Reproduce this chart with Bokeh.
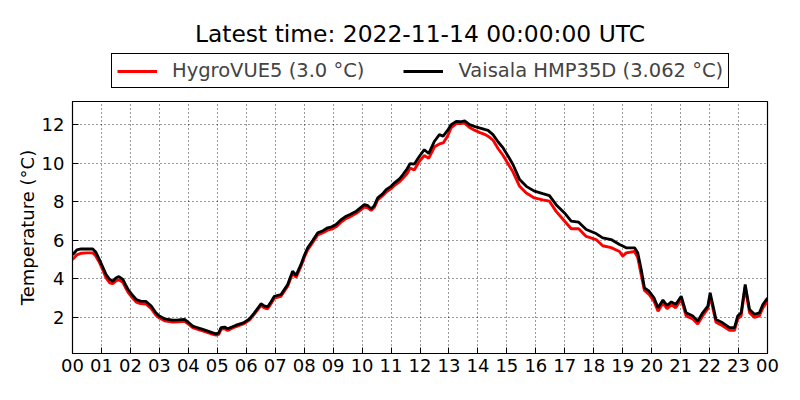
from bokeh.plotting import figure
from bokeh.layouts import column
from bokeh.models import Range1d, FixedTicker, Legend, LegendItem, ColumnDataSource, Label
from bokeh.embed import file_html
from bokeh.resources import INLINE

title_text = "Latest time: 2022-11-14 00:00:00 UTC"
y_label = "Temperature (°C)"
tick_hours = list(range(25))
tick_labels = ["00", "01", "02", "03", "04", "05", "06", "07", "08", "09", "10", "11",
               "12", "13", "14", "15", "16", "17", "18", "19", "20", "21", "22", "23", "00"]
y_ticks = [2, 4, 6, 8, 10, 12]

label_hygro = "HygroVUE5 (3.0 °C)"
label_hmp = "Vaisala HMP35D (3.062 °C)"

hours = [0.0, 0.15, 0.3, 0.5, 0.7, 0.8, 0.93, 1.05, 1.16, 1.28, 1.39, 1.5, 1.6, 1.74, 1.83,
         1.92, 2.05, 2.2, 2.35, 2.54, 2.72, 2.88, 3.0, 3.18, 3.46, 3.65, 3.87, 4.0, 4.15,
         4.3, 4.5, 4.7, 4.85, 4.96, 5.05, 5.13, 5.25, 5.36, 5.5, 5.65, 5.9, 6.11, 6.28,
         6.51, 6.62, 6.74, 6.85, 6.97, 7.2, 7.43, 7.6, 7.72, 7.89, 8.0, 8.12, 8.3, 8.47,
         8.65, 8.81, 8.95, 9.1, 9.3, 9.45, 9.6, 9.8, 10.08, 10.2, 10.31, 10.42, 10.54,
         10.7, 10.83, 11.0, 11.12, 11.3, 11.41, 11.55, 11.66, 11.8, 11.98, 12.15, 12.3,
         12.5, 12.67, 12.8, 12.95, 13.08, 13.25, 13.4, 13.54, 13.71, 13.9, 14.05, 14.23,
         14.35, 14.52, 14.7, 14.87, 15.05, 15.21, 15.44, 15.67, 15.95, 16.24, 16.47, 16.7,
         16.99, 17.22, 17.48, 17.74, 18.08, 18.31, 18.6, 18.89, 19.0, 19.12, 19.41, 19.52,
         19.64, 19.75, 19.91, 20.08, 20.22, 20.39, 20.53, 20.68, 20.83, 21.02, 21.19,
         21.42, 21.59, 21.76, 21.94, 22.02, 22.11, 22.22, 22.45, 22.69, 22.86, 22.97,
         23.09, 23.23, 23.38, 23.55, 23.72, 23.84, 24.0]

temp_hmp35d = [5.25, 5.5, 5.56, 5.55, 5.55, 5.4, 5.0, 4.6, 4.23, 3.98, 3.88, 4.05, 4.12, 3.97, 3.7,
               3.45, 3.2, 2.93, 2.85, 2.83, 2.59, 2.24, 2.07, 1.93, 1.86, 1.87, 1.9, 1.75, 1.55,
               1.48, 1.38, 1.28, 1.2, 1.15, 1.2, 1.47, 1.5, 1.41, 1.5, 1.6, 1.72, 1.93, 2.24,
               2.71, 2.6, 2.55, 2.8, 3.1, 3.19, 3.71, 4.4, 4.18, 4.75, 5.2, 5.61, 6.0, 6.39,
               6.5, 6.65, 6.7, 6.82, 7.1, 7.25, 7.35, 7.51, 7.85, 7.8, 7.63, 7.8, 8.2,
               8.4, 8.63, 8.8, 8.98, 9.2, 9.41, 9.7, 9.98, 9.95, 10.36, 10.7, 10.5,
               11.14, 11.48, 11.4, 11.7, 12.0, 12.17, 12.15, 12.2, 12.0, 11.9, 11.83, 11.75,
               11.7, 11.48, 11.1, 10.79, 10.35, 9.93, 9.15, 8.8, 8.55, 8.42, 8.32, 7.85,
               7.42, 7.0, 6.94, 6.56, 6.35, 6.13, 6.04, 5.78, 5.7, 5.61, 5.61, 5.35,
               4.49, 3.54, 3.36, 3.02, 2.5, 2.9, 2.62, 2.81, 2.67, 3.1, 2.24,
               2.07, 1.81, 2.24, 2.59, 3.28, 2.67, 1.9, 1.72, 1.47, 1.47, 2.07,
               2.24, 3.71, 2.41, 2.16, 2.24, 2.67, 3.0]

temp_hygrovue5 = [5.0, 5.25, 5.33, 5.35, 5.35, 5.2, 4.85, 4.45, 4.05, 3.8, 3.75, 3.9, 3.95, 3.82, 3.55,
                  3.3, 3.05, 2.8, 2.72, 2.7, 2.45, 2.12, 1.97, 1.83, 1.76, 1.78, 1.8, 1.66, 1.47,
                  1.4, 1.3, 1.2, 1.12, 1.08, 1.12, 1.38, 1.42, 1.33, 1.43, 1.53, 1.66, 1.87, 2.17,
                  2.63, 2.5, 2.45, 2.7, 3.0, 3.1, 3.62, 4.28, 4.08, 4.65, 5.1, 5.5, 5.9, 6.28,
                  6.4, 6.53, 6.58, 6.7, 6.98, 7.13, 7.23, 7.4, 7.72, 7.68, 7.55, 7.7, 8.1,
                  8.3, 8.5, 8.68, 8.85, 9.05, 9.22, 9.45, 9.75, 9.65, 10.1, 10.4, 10.25,
                  10.85, 11.0, 11.05, 11.4, 11.85, 12.05, 12.05, 12.08, 11.85, 11.7, 11.6, 11.5,
                  11.4, 11.2, 10.75, 10.4, 9.95, 9.55, 8.8, 8.45, 8.2, 8.1, 8.03, 7.5,
                  7.0, 6.6, 6.6, 6.2, 6.04, 5.72, 5.62, 5.42, 5.18, 5.35, 5.42, 5.1,
                  4.2, 3.4, 3.2, 2.85, 2.32, 2.75, 2.45, 2.65, 2.5, 2.95, 2.08,
                  1.92, 1.66, 2.08, 2.45, 3.12, 2.5, 1.75, 1.57, 1.33, 1.33, 1.92,
                  2.08, 3.55, 2.25, 2.0, 2.08, 2.5, 2.85]

FONT = "DejaVu Sans"
RED_W = 2.9
BLK_W = 2.8

src = ColumnDataSource(dict(h=hours, a=temp_hygrovue5, b=temp_hmp35d))

# ---- header figure: title + legend (frame aligned with main plot frame) ----
top = figure(output_backend="svg", toolbar_location=None, width=791, height=92,
             x_range=Range1d(0, 24), y_range=Range1d(100, 101),
             min_border=0, min_border_left=0, min_border_right=0,
             min_border_top=0, min_border_bottom=0)
top.axis.visible = False
top.grid.visible = False
top.outline_line_color = None
lg_red = top.line("h", "a", source=src, line_color="red", line_width=RED_W)
lg_blk = top.line("h", "b", source=src, line_color="black", line_width=BLK_W)
top.add_layout(Label(x=347.5, y=59, x_units="screen", y_units="screen", text=title_text,
                     text_align="center", text_baseline="middle", text_font=FONT,
                     text_font_size="23.4px", text_color="black"))
legend = Legend(items=[LegendItem(label=label_hygro, renderers=[lg_red]),
                       LegendItem(label=label_hmp, renderers=[lg_blk])],
                orientation="horizontal", location=(39, 4))
legend.label_text_font = FONT
legend.label_text_font_size = "19.5px"
legend.glyph_width = 40
legend.glyph_height = 20
legend.label_height = 20
legend.label_standoff = 15
legend.spacing = 39
legend.padding = 5
legend.margin = 0
legend.border_line_color = "black"
legend.border_line_width = 1
legend.border_line_alpha = 1
legend.background_fill_alpha = 1
top.add_layout(legend, "center")

# ---- main figure ----
p = figure(output_backend="svg", toolbar_location=None,
           x_range=Range1d(0, 24), y_range=Range1d(0.13, 13.2),
           frame_width=695, frame_height=252,
           min_border_left=72, min_border_right=24, min_border_bottom=38, min_border_top=9)

p.line("h", "a", source=src, line_color="red", line_width=RED_W)
p.line("h", "b", source=src, line_color="black", line_width=BLK_W)

p.outline_line_color = "black"
p.outline_line_width = 1.2

for ax in (p.xaxis[0], p.yaxis[0]):
    ax.major_label_text_font = FONT
    ax.major_label_text_font_size = "18px"
    ax.major_label_text_color = "black"
    ax.major_tick_in = 6
    ax.major_tick_out = 0
    ax.minor_tick_in = 0
    ax.minor_tick_out = 0
    ax.axis_line_color = "black"
    ax.major_tick_line_color = "black"

p.xaxis[0].ticker = FixedTicker(ticks=tick_hours)
p.xaxis[0].major_label_overrides = {h: lab for h, lab in zip(tick_hours, tick_labels)}
p.xaxis[0].major_label_standoff = 5
p.yaxis[0].ticker = FixedTicker(ticks=y_ticks)
p.yaxis[0].axis_label = y_label
p.yaxis[0].axis_label_text_font = FONT
p.yaxis[0].axis_label_text_font_size = "18px"
p.yaxis[0].axis_label_text_font_style = "normal"
p.yaxis[0].axis_label_text_color = "black"
p.yaxis[0].axis_label_standoff = 1
p.yaxis[0].major_label_standoff = 8

p.xgrid.ticker = FixedTicker(ticks=tick_hours)
p.ygrid.ticker = FixedTicker(ticks=y_ticks)
for g in (p.xgrid[0], p.ygrid[0]):
    g.grid_line_color = "black"
    g.grid_line_dash = "1 3"
    g.grid_line_width = 1
    g.grid_line_alpha = 0.8

open("out.html", "w").write(file_html(column(top, p, spacing=0), INLINE))
